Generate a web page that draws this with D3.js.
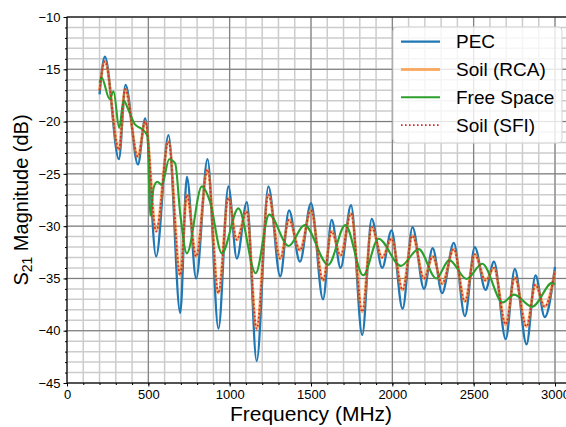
<!DOCTYPE html>
<html lang="en">
	<head>
		<meta charset="utf-8">
		<title>S21 magnitude</title>
		<script type="text/javascript" src="https://cdn.jsdelivr.net/npm/d3@7"></script>
		<style type="text/css">
			body { margin: 0; background: #fff; overflow: hidden; }
			text { font-family: "Liberation Sans", Arial, sans-serif; }
		</style>
	</head>
	<body>
		<script type="text/javascript">

			//Data (frequency in MHz, magnitude in dB)
			var pecFreq = [200, 233, 319, 360, 436, 481, 548, 624, 696, 737, 794, 864, 931, 992, 1044, 1106, 1166, 1238, 1311, 1365, 1432, 1500, 1574, 1627, 1682, 1746, 1815, 1873, 1938, 1995, 2063, 2124, 2195, 2248, 2306, 2378, 2446, 2507, 2573, 2625, 2697, 2753, 2825, 2880, 2937, 3000];
			var pecVals = [-17.4, -13.8, -23.6, -16.5, -24.1, -19.7, -32.9, -21.3, -38.3, -25.3, -35.0, -23.6, -39.8, -26.2, -33.1, -27.7, -42.9, -26.2, -34.8, -28.5, -33.4, -27.8, -37.0, -29.4, -34.0, -28.0, -40.4, -29.3, -34.0, -30.4, -37.9, -30.1, -36.0, -32.1, -36.4, -31.6, -38.6, -32.0, -36.1, -33.4, -40.8, -34.1, -41.3, -34.7, -38.7, -33.9];

			var rcaFreq = [200, 233, 319, 357, 436, 481, 548, 624, 696, 737, 794, 864, 931, 992, 1044, 1104, 1166, 1238, 1311, 1365, 1432, 1500, 1574, 1627, 1682, 1746, 1815, 1873, 1938, 1995, 2063, 2124, 2195, 2248, 2306, 2378, 2446, 2507, 2573, 2625, 2697, 2753, 2825, 2880, 2937, 3000];
			var rcaVals = [-17.0, -14.25, -22.7, -16.9, -23.35, -20.0, -30.5, -21.9, -34.7, -27.0, -32.9, -24.6, -36.4, -27.3, -31.3, -28.6, -39.8, -27.0, -33.1, -29.4, -32.3, -28.5, -35.2, -30.5, -32.8, -28.8, -38.2, -30.1, -33.0, -31.2, -36.1, -30.9, -35.0, -32.9, -35.5, -32.2, -37.2, -32.7, -35.2, -34.0, -39.4, -34.9, -39.6, -35.6, -37.7, -34.3];

			var freeFreq = [200, 213, 262, 286, 321, 348, 378, 419, 460, 495, 511, 533, 555, 583, 628, 665, 696, 737, 829, 880, 952, 1054, 1160, 1243, 1363, 1460, 1606, 1711, 1821, 1915, 2052, 2162, 2270, 2350, 2456, 2553, 2679, 2748, 2860, 2985, 3000];
			var freeVals = [-16.3, -15.8, -17.85, -17.1, -20.6, -18.0, -18.9, -20.3, -20.7, -21.4, -29.0, -26.3, -25.75, -26.05, -23.6, -24.0, -28.8, -32.6, -26.2, -27.7, -32.6, -28.3, -34.5, -28.9, -31.9, -29.9, -33.7, -29.9, -34.7, -31.2, -33.8, -32.2, -35.0, -33.25, -35.05, -33.6, -37.3, -36.55, -37.7, -35.4, -35.6];

			//SFI curve sits on top of the RCA curve
			var sfiFreq = rcaFreq;
			var sfiVals = rcaVals;

			var seriesNames = ["PEC", "Soil (RCA)", "Free Space", "Soil (SFI)"];
			var xTicks = [0, 500, 1000, 1500, 2000, 2500, 3000];
			var yTicks = [-45, -40, -35, -30, -25, -20, -15, -10];

			//Width and height
			var w = 566;
			var h = 427;
			var margin = {top: 17, right: 11, bottom: 44, left: 67};

			var xScale = d3.scaleLinear()
						   .domain([0, 3000])
						   .range([margin.left, w - margin.right]);

			var yScale = d3.scaleLinear()
						   .domain([-45, -10])
						   .range([h - margin.bottom, margin.top]);

			//the axes run on past 3000, beyond the right edge of the picture
			var xEnd = 3100;

			var svg = d3.select("body")
						.append("svg")
						.attr("width", w)
						.attr("height", h);

			//Minor grid
			var xMinor = d3.range(0, 3101, 100);
			var yMinor = d3.range(-45, -9, 1);

			svg.append("g")
			   .selectAll("line")
			   .data(xMinor)
			   .enter()
			   .append("line")
			   .attr("x1", function(d) { return xScale(d); })
			   .attr("x2", function(d) { return xScale(d); })
			   .attr("y1", yScale(-45))
			   .attr("y2", yScale(-10))
			   .attr("stroke", "#cccccc")
			   .attr("stroke-width", 1.5);

			svg.append("g")
			   .selectAll("line")
			   .data(yMinor)
			   .enter()
			   .append("line")
			   .attr("x1", xScale(0))
			   .attr("x2", xScale(xEnd))
			   .attr("y1", function(d) { return yScale(d); })
			   .attr("y2", function(d) { return yScale(d); })
			   .attr("stroke", "#cccccc")
			   .attr("stroke-width", 1.5);

			//Major grid
			svg.append("g")
			   .selectAll("line")
			   .data(xTicks)
			   .enter()
			   .append("line")
			   .attr("x1", function(d) { return xScale(d); })
			   .attr("x2", function(d) { return xScale(d); })
			   .attr("y1", yScale(-45))
			   .attr("y2", yScale(-10))
			   .attr("stroke", "#777")
			   .attr("stroke-width", 1);

			svg.append("g")
			   .selectAll("line")
			   .data(yTicks)
			   .enter()
			   .append("line")
			   .attr("x1", xScale(0))
			   .attr("x2", xScale(xEnd))
			   .attr("y1", function(d) { return yScale(d); })
			   .attr("y2", function(d) { return yScale(d); })
			   .attr("stroke", "#777")
			   .attr("stroke-width", 1);

			//Lines
			var line = d3.line()
						 .x(function(d) { return xScale(d[0]); })
						 .y(function(d) { return yScale(d[1]); })
						 .curve(d3.curveMonotoneX);

			function pairs(f, v) {
				return f.map(function(d, i) { return [d, v[i]]; });
			}

			var series = [
				{name: seriesNames[0], data: pairs(pecFreq, pecVals), color: "#1f77b4", width: 2.3, opacity: 1, dash: null},
				{name: seriesNames[1], data: pairs(rcaFreq, rcaVals), color: "#ff7f0e", width: 3, opacity: 0.6, dash: null},
				{name: seriesNames[2], data: pairs(freeFreq, freeVals), color: "#2ca02c", width: 2.1, opacity: 1, dash: null},
				{name: seriesNames[3], data: pairs(sfiFreq, sfiVals), color: "#d62728", width: 1.8, opacity: 1, dash: "1.6,2.4"}
			];

			svg.append("g")
			   .selectAll("path")
			   .data(series)
			   .enter()
			   .append("path")
			   .attr("d", function(d) { return line(d.data); })
			   .attr("fill", "none")
			   .attr("stroke", function(d) { return d.color; })
			   .attr("stroke-width", function(d) { return d.width; })
			   .attr("stroke-opacity", function(d) { return d.opacity; })
			   .attr("stroke-dasharray", function(d) { return d.dash; })
			   .attr("stroke-linejoin", "round");

			//Define X axis
			var xAxis = d3.axisBottom(xScale)
						  .tickValues(xTicks)
						  .tickFormat(d3.format("d"))
						  .tickSizeInner(3.5)
						  .tickSizeOuter(0)
						  .tickPadding(3);

			var xAxisMinor = d3.axisBottom(xScale)
							   .tickValues(xMinor)
							   .tickSizeInner(2)
							   .tickSizeOuter(0)
							   .tickFormat("");

			//Define Y axis
			var yAxis = d3.axisLeft(yScale)
						  .tickValues(yTicks)
						  .tickSizeInner(3.5)
						  .tickSizeOuter(0)
						  .tickPadding(3);

			var yAxisMinor = d3.axisLeft(yScale)
							   .tickValues(yMinor)
							   .tickSizeInner(2)
							   .tickSizeOuter(0)
							   .tickFormat("");

			svg.append("g")
			   .attr("transform", "translate(0," + (h - margin.bottom) + ")")
			   .call(xAxisMinor);

			svg.append("g")
			   .attr("class", "axis")
			   .attr("transform", "translate(0," + (h - margin.bottom) + ")")
			   .call(xAxis);

			svg.append("g")
			   .attr("transform", "translate(" + margin.left + ",0)")
			   .call(yAxisMinor);

			svg.append("g")
			   .attr("class", "axis")
			   .attr("transform", "translate(" + margin.left + ",0)")
			   .call(yAxis);

			svg.selectAll(".axis text")
			   .style("font-size", "13px")
			   .attr("fill", "#000");

			svg.selectAll(".domain").remove();

			//Frame
			svg.append("rect")
			   .attr("x", xScale(0))
			   .attr("y", yScale(-10))
			   .attr("width", xScale(xEnd) - xScale(0))
			   .attr("height", yScale(-45) - yScale(-10))
			   .attr("fill", "none")
			   .attr("stroke", "#000")
			   .attr("stroke-width", 1);

			//Axis labels
			svg.append("text")
			   .attr("x", (xScale(0) + xScale(3000)) / 2)
			   .attr("y", 421)
			   .attr("text-anchor", "middle")
			   .style("font-size", "21px")
			   .text("Frequency (MHz)");

			var ylab = svg.append("text")
						  .attr("transform", "translate(28," + ((yScale(-10) + yScale(-45)) / 2) + ") rotate(-90)")
						  .attr("text-anchor", "middle")
						  .style("font-size", "20px");
			ylab.append("tspan").text("S");
			ylab.append("tspan").attr("dy", 4).style("font-size", "14px").text("21");
			ylab.append("tspan").attr("dy", -4).text(" Magnitude (dB)");

			//Legend
			var legend = svg.append("g");

			legend.append("rect")
				  .attr("x", 393)
				  .attr("y", 27)
				  .attr("width", 169)
				  .attr("height", 116)
				  .attr("rx", 4)
				  .attr("fill", "#fff")
				  .attr("fill-opacity", 0.8)
				  .attr("stroke", "#d4d4d4");

			var rows = legend.selectAll("g.row")
							 .data(series)
							 .enter()
							 .append("g")
							 .attr("class", "row")
							 .attr("transform", function(d, i) { return "translate(0," + (41.7 + i * 27.8) + ")"; });

			rows.append("line")
				.attr("x1", 401)
				.attr("x2", 440)
				.attr("stroke", function(d) { return d.color; })
				.attr("stroke-width", function(d) { return d.width; })
				.attr("stroke-opacity", function(d) { return d.opacity; })
				.attr("stroke-dasharray", function(d) { return d.dash; });

			rows.append("text")
				.attr("x", 456)
				.attr("dy", "0.35em")
				.style("font-size", "19px")
				.text(function(d) { return d.name; });

		</script>
	</body>
</html>
